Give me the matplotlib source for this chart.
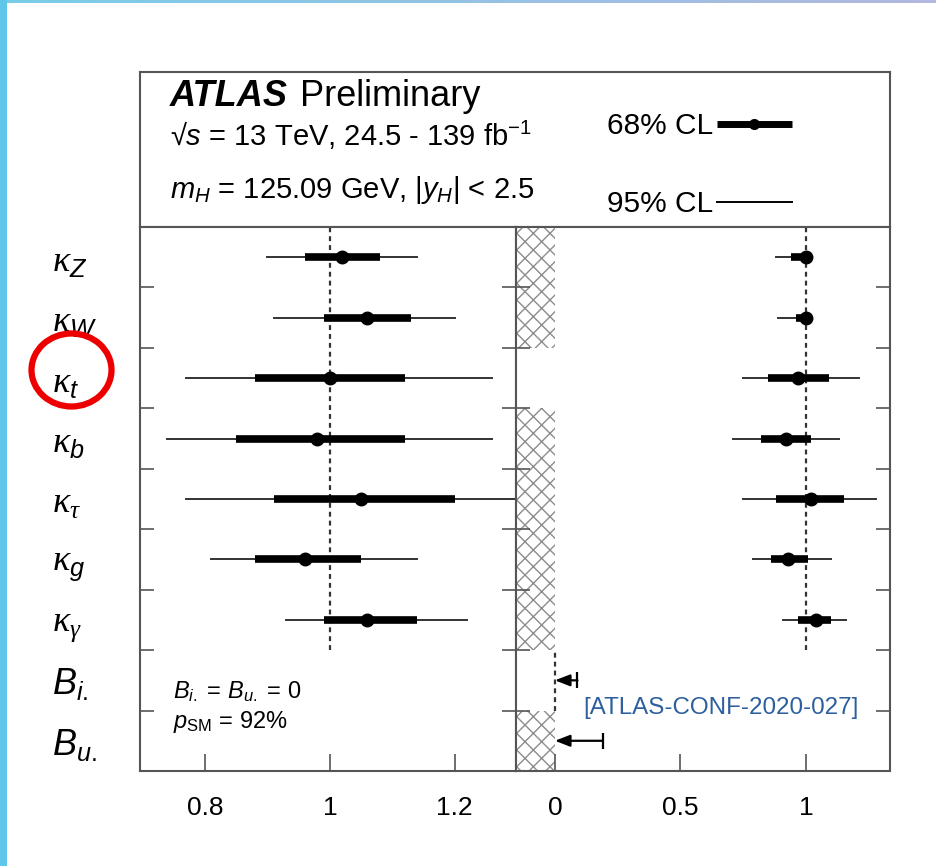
import matplotlib.pyplot as plt
from matplotlib.patches import Ellipse, Rectangle
from matplotlib.colors import LinearSegmentedColormap
import numpy as np

plt.rcParams['font.family'] = ['Liberation Sans', 'DejaVu Sans']
plt.rcParams['mathtext.fontset'] = 'custom'
plt.rcParams['mathtext.rm'] = 'Liberation Sans'
plt.rcParams['mathtext.it'] = 'Liberation Sans:italic'
plt.rcParams['mathtext.bf'] = 'Liberation Sans:bold'
plt.rcParams['mathtext.sf'] = 'Liberation Serif:italic'
plt.rcParams['hatch.linewidth'] = 1.0

# parameters, top to bottom
labels = [r'$\mathsf{\kappa}_Z$', r'$\mathsf{\kappa}_W$', r'$\mathsf{\kappa}_t$',
          r'$\mathsf{\kappa}_b$', r'$\mathsf{\kappa}_{\mathsf{\tau}}$', r'$\mathsf{\kappa}_g$',
          r'$\mathsf{\kappa}_{\mathsf{\gamma}}$', r'$B_{i.}$', r'$B_{u.}$']

# left panel: B_i. = B_u. = 0
left_val = [1.02, 1.06, 1.00, 0.98, 1.05, 0.96, 1.06]
left_lo68 = [0.96, 0.99, 0.88, 0.85, 0.91, 0.88, 0.99]
left_hi68 = [1.08, 1.13, 1.12, 1.12, 1.20, 1.05, 1.14]
left_lo95 = [0.90, 0.91, 0.77, 0.74, 0.77, 0.81, 0.93]
left_hi95 = [1.14, 1.20, 1.26, 1.26, 1.34, 1.14, 1.22]

# right panel: kappa_V <= 1, B_i. and B_u. free
right_val = [1.00, 1.00, 0.97, 0.92, 1.02, 0.93, 1.04]
right_lo68 = [0.94, 0.96, 0.85, 0.82, 0.88, 0.86, 0.97]
right_hi68 = [1.00, 1.00, 1.09, 1.02, 1.15, 1.01, 1.10]
right_lo95 = [0.88, 0.89, 0.75, 0.71, 0.75, 0.79, 0.91]
right_hi95 = [1.00, 1.00, 1.21, 1.13, 1.28, 1.10, 1.16]
br_limits = [0.09, 0.19]          # 95% CL upper limits on B_i., B_u.
hatched_rows = [True, True, False, True, True, True, True, False, True]

W, H = 936, 866
fig = plt.figure(figsize=(W / 100, H / 100), dpi=100)


def px_axes(x0, y0, x1, y1):
    return fig.add_axes([x0 / W, 1 - y1 / H, (x1 - x0) / W, (y1 - y0) / H])


n = len(labels)
ypos = np.arange(n)[::-1] + 0.5
nk = len(left_val)
frame_col = '#555555'
thin_col = '#333333'
dash = (0, (2.2, 1.8))


def style_panel(ax, xlim, xticks, xticklabels, ylabels):
    ax.set_xlim(*xlim)
    ax.set_ylim(0, n)
    ax.set_xticks(xticks)
    ax.set_xticklabels(xticklabels, fontsize=19)
    ax.set_yticks(np.arange(1, n))
    ax.set_yticklabels([])
    ax.set_yticks(ypos, minor=True)
    if ylabels:
        ax.set_yticklabels(labels, minor=True, fontsize=26, ha='left')
        ax.tick_params(axis='y', which='minor', pad=63)
    ax.tick_params(axis='y', which='minor', length=0)
    ax.tick_params(axis='y', which='major', direction='in', length=10,
                   width=1.2, color=frame_col, left=True, right=True)
    ax.tick_params(axis='x', which='major', direction='in', length=12,
                   width=1.2, color=frame_col, pad=18)
    for s in ax.spines.values():
        s.set_color(frame_col)
        s.set_linewidth(1.5)


def draw_points(ax, val, lo68, hi68, lo95, hi95):
    for i in range(nk):
        y = ypos[i]
        ax.plot([lo95[i], hi95[i]], [y, y], color=thin_col, lw=1.4, zorder=3)
        ax.plot([lo68[i], hi68[i]], [y, y], color='black', lw=5.5,
                solid_capstyle='butt', zorder=4)
        ax.plot(val[i], y, 'o', color='black', ms=9, zorder=5)


# header box
hdr = px_axes(140, 72, 890, 227)
hdr.set_xlim(140, 890)
hdr.set_ylim(227, 72)
hdr.set_xticks([])
hdr.set_yticks([])
for s in hdr.spines.values():
    s.set_color(frame_col)
    s.set_linewidth(1.5)
hdr.text(170, 106, 'ATLAS', fontsize=26, fontweight='bold', fontstyle='italic', va='baseline')
hdr.text(300, 106, 'Preliminary', fontsize=26, va='baseline')
hdr.text(170, 146, r'√$s$ = 13 TeV, 24.5 - 139 fb$^{-1}$', fontsize=21, va='baseline')
hdr.text(170, 198, r'$m_H$ = 125.09 GeV, |$y_H$| < 2.5', fontsize=21, va='baseline')
hdr.text(713, 134, '68% CL', fontsize=21.5, ha='right', va='baseline')
hdr.text(713, 212, '95% CL', fontsize=21.5, ha='right', va='baseline')
hdr.plot([717, 792], [124, 124], color='black', lw=5, solid_capstyle='butt')
hdr.plot([754], [124], 'o', color='black', ms=7)
hdr.plot([717, 792], [202, 202], color='black', lw=1.4)

# left panel
axl = px_axes(140, 227, 516, 771)
style_panel(axl, (0.696, 1.298), [0.8, 1.0, 1.2], ['0.8', '1', '1.2'], True)
axl.plot([1, 1], [n - nk, n], color=thin_col, lw=1.6, ls=dash, zorder=2)
draw_points(axl, left_val, left_lo68, left_hi68, left_lo95, left_hi95)
axl.text(0.749, 1.21, r'$B_{i.}$ = $B_{u.}$ = 0', fontsize=17, va='baseline')
axl.text(0.749, 0.71, r'$p_{\mathrm{SM}}$ = 92%', fontsize=17, va='baseline')

# right panel
axr = px_axes(516, 227, 890, 771)
xr_lo = -0.155
style_panel(axr, (xr_lo, 1.335), [0, 0.5, 1.0], ['0', '0.5', '1'], False)
for i, h in enumerate(hatched_rows):
    if h:
        axr.add_patch(Rectangle((xr_lo, ypos[i] - 0.5), -xr_lo, 1.0,
                                facecolor='white', edgecolor='#8c8c8c', lw=0,
                                hatch='xx', zorder=1))
axr.plot([1, 1], [n - nk, n], color=thin_col, lw=1.6, ls=dash, zorder=2)
axr.plot([0, 0], [1, 2], color=thin_col, lw=1.6, ls=dash, zorder=2)
draw_points(axr, right_val, right_lo68, right_hi68, right_lo95, right_hi95)
for lim, y in zip(br_limits, ypos[nk:]):
    axr.annotate('', xy=(0, y), xytext=(lim, y),
                 arrowprops=dict(arrowstyle='-|>,head_length=0.9,head_width=0.35',
                                 color='black', lw=1.6, shrinkA=0, shrinkB=0),
                 zorder=5)
    axr.plot(lim, y, '|', color='black', ms=12, mew=1.6, zorder=5)

fig.text(583 / W, 1 - 708 / H, '[ATLAS-CONF-2020-027]', fontsize=17.4,
         color='#2d5f9e', va='center', ha='left')

# slide frame and highlight overlay
ov = fig.add_axes([0, 0, 1, 1], zorder=10)
ov.axis('off')
ov.patch.set_alpha(0)
grad = np.linspace(0, 1, 256)[None, :]
top_cmap = LinearSegmentedColormap.from_list('top', ['#78cde8', '#b3b8e0'])
ov.imshow(grad, cmap=top_cmap, extent=(0, W, 3, 0), aspect='auto')
ov.add_patch(Rectangle((0, 0), 7, H, facecolor='#5ec6e8', edgecolor='none'))
ov.add_patch(Ellipse((71.5, 370), 80, 73, facecolor='none', edgecolor='#ee0000', lw=4.5))
ov.set_xlim(0, W)
ov.set_ylim(H, 0)

fig.savefig('out.png', dpi=100)
